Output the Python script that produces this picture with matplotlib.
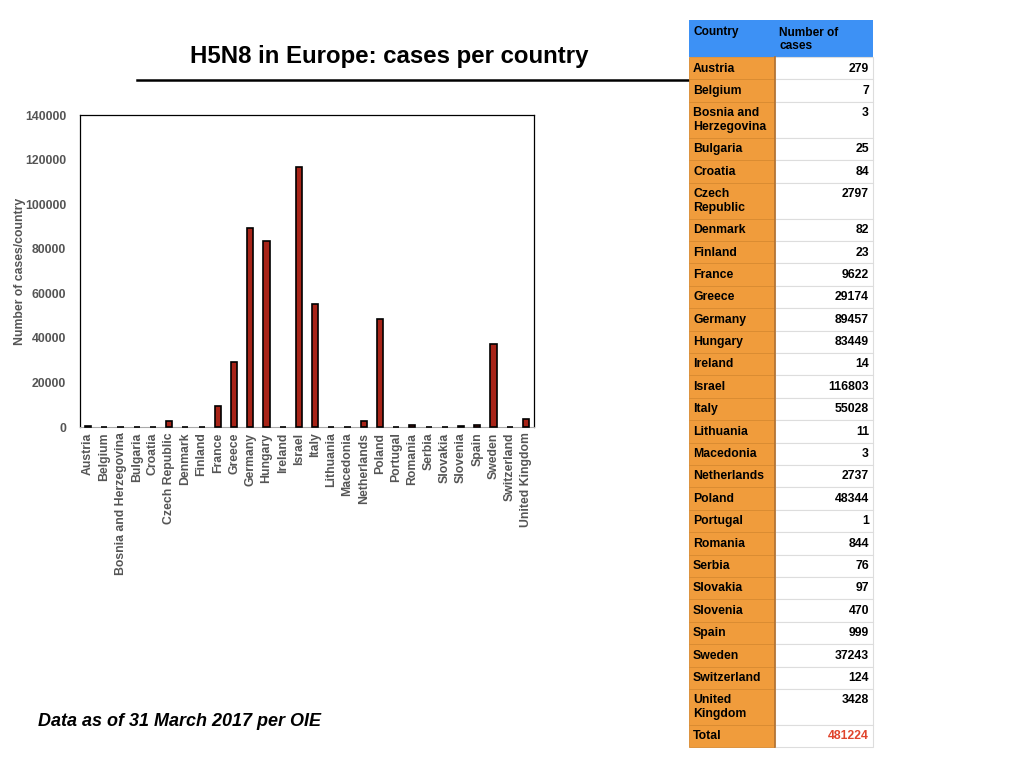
import numpy as np
import matplotlib
matplotlib.use("Agg")
import matplotlib.pyplot as plt
from matplotlib.patches import Rectangle

plt.rcParams['font.family'] = ['Liberation Sans', 'DejaVu Sans']

countries = ['Austria', 'Belgium', 'Bosnia and Herzegovina', 'Bulgaria', 'Croatia',
             'Czech Republic', 'Denmark', 'Finland', 'France', 'Greece', 'Germany',
             'Hungary', 'Ireland', 'Israel', 'Italy', 'Lithuania', 'Macedonia',
             'Netherlands', 'Poland', 'Portugal', 'Romania', 'Serbia', 'Slovakia',
             'Slovenia', 'Spain', 'Sweden', 'Switzerland', 'United Kingdom']
cases = [279, 7, 3, 25, 84, 2797, 82, 23, 9622, 29174, 89457, 83449, 14, 116803,
         55028, 11, 3, 2737, 48344, 1, 844, 76, 97, 470, 999, 37243, 124, 3428]
# names as wrapped in the table
table_names = ['Austria', 'Belgium', 'Bosnia and\nHerzegovina', 'Bulgaria', 'Croatia',
               'Czech\nRepublic', 'Denmark', 'Finland', 'France', 'Greece', 'Germany',
               'Hungary', 'Ireland', 'Israel', 'Italy', 'Lithuania', 'Macedonia',
               'Netherlands', 'Poland', 'Portugal', 'Romania', 'Serbia', 'Slovakia',
               'Slovenia', 'Spain', 'Sweden', 'Switzerland', 'United\nKingdom']
total = 481224

GRAY = '#555555'
BAR = '#a82418'
ORANGE = '#f09c3c'
BLUE = '#3d91f5'

fig = plt.figure(figsize=(10.24, 7.68), dpi=100)

# bar chart
ax = fig.add_axes([80 / 1024, 1 - 427 / 768, 454 / 1024, 312 / 768])
x = np.arange(len(countries))
ax.bar(x, cases, width=0.38, color=BAR, edgecolor='black', linewidth=1.2,
       zorder=3, clip_on=False)
ax.set_xlim(-0.5, len(countries) - 0.5)
ax.set_ylim(0, 140000)
ax.set_yticks(np.arange(0, 140001, 20000))
ax.set_xticks(x)
ax.set_xticklabels(countries, rotation=90, fontsize=8.8, fontweight='bold', color=GRAY)
ax.tick_params(axis='y', labelsize=8.8, labelcolor=GRAY, length=0, pad=10)
ax.tick_params(axis='x', length=0, pad=4)
for lab in ax.get_yticklabels():
    lab.set_fontweight('bold')
ax.set_ylabel('Number of cases/country', fontsize=8.8, fontweight='bold', color=GRAY, labelpad=-1)
ax.spines['bottom'].set_color('#aaaaaa')
for s in ['top', 'right', 'left']:
    ax.spines[s].set_linewidth(0.9)

# overlay for title, rule, footer (pixel coordinates)
ov = fig.add_axes([0, 0, 1, 1], zorder=-1)
ov.set_xlim(0, 1024)
ov.set_ylim(768, 0)
ov.axis('off')

ov.text(389, 57, 'H5N8 in Europe: cases per country', fontsize=17.3, fontweight='bold',
        ha='center', va='center')
ov.plot([137, 690], [80, 80], color='black', lw=1.8)
ov.text(38, 721, 'Data as of 31 March 2017 per OIE', fontsize=13, fontweight='bold',
        style='italic', ha='left', va='center')

# table
tab = fig.add_axes([0, 0, 1, 1], zorder=2)
tab.set_xlim(0, 1024)
tab.set_ylim(768, 0)
tab.axis('off')
tab.patch.set_alpha(0)

x0, x1, x2 = 689, 775, 873
y = 20
hh = 37
tab.add_patch(Rectangle((x0, y), x2 - x0, hh, facecolor=BLUE, edgecolor='none'))
tab.text(x0 + 4, y + 6.5, 'Country', fontsize=8.6, fontweight='bold', va='top')
tab.text(x1 + 4, y + 6.5, 'Number of\ncases', fontsize=8.6, fontweight='bold', va='top',
         linespacing=1.2)
y += hh

rows = list(zip(table_names, [str(c) for c in cases])) + [('Total', str(total))]
for name, val in rows:
    h = 36 if '\n' in name else 22.4
    tab.add_patch(Rectangle((x0, y), x1 - x0, h, facecolor=ORANGE, edgecolor='#d88a30', lw=0.6))
    tab.add_patch(Rectangle((x1, y), x2 - x1, h, facecolor='white', edgecolor='#dddddd', lw=0.8))
    tab.text(x0 + 4, y + 5.5, name, fontsize=8.8, fontweight='bold', va='top', linespacing=1.2)
    tab.text(x2 - 4, y + 5.5, val, fontsize=8.8, fontweight='bold', va='top', ha='right',
             color='#e0442c' if name == 'Total' else 'black')
    y += h
tab.plot([x1, x1], [57, y], color='#b07030', lw=1.2)

fig.savefig('out.png', dpi=100)
